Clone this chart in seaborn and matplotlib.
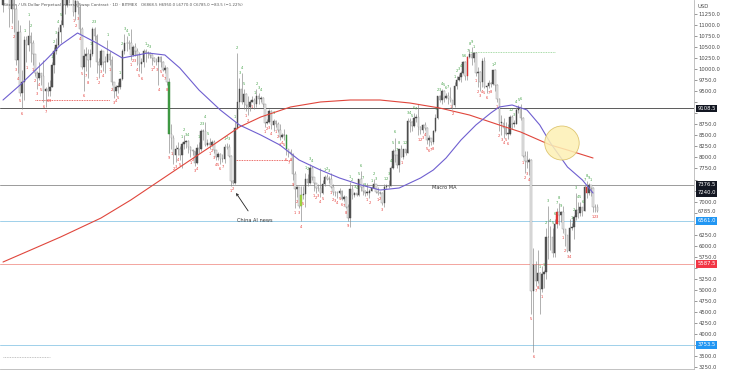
import numpy as np
import pandas as pd
import matplotlib
matplotlib.use("Agg")
import matplotlib.pyplot as plt
import seaborn as sns
from matplotlib.patches import Ellipse

# ---------------- data (daily candles, XBTUSD) ----------------
first_open = 11450.0
closes = [12300, 12560, 12100, 11350, 11800, 11350, 10200, 10850, 9450, 9700,
          10650, 10550, 10750, 10600, 10350, 9900, 9800, 9900, 9850, 9500,
          9550, 9500, 9600, 10100, 10400, 10550, 10850, 11000, 11800, 11450,
          11950, 11950, 11850, 11300, 11550, 11400, 10900, 10050, 10300, 10350,
          10200, 10350, 10900, 10750, 10150, 10100, 10400, 10150, 10150, 10350,
          10200, 9700, 9500, 9600, 9600, 9770, 10400, 10600, 10580, 10580,
          10320, 10490, 10410, 10330, 10110, 10160, 10410, 10360, 10360, 10310,
          10260, 10190, 10160, 10280, 10170, 9990, 10030, 9700, 8530, 8430,
          8060, 8200, 8200, 8050, 8300, 8340, 8380, 8230, 8160, 8150,
          7870, 8210, 8190, 8590, 8590, 8270, 8320, 8290, 8360, 8160,
          8000, 8080, 7960, 7960, 8240, 8230, 8030, 7470, 7420, 8670,
          9260, 9550, 9250, 9430, 9180, 9150, 9250, 9300, 9200, 9400,
          9320, 9340, 9200, 8780, 8810, 9040, 8730, 8820, 8760, 8630,
          8470, 8500, 8500, 8180, 8120, 8080, 7620, 7280, 7320, 6900,
          7150, 7170, 7520, 7420, 7750, 7560, 7420, 7310, 7300, 7200,
          7400, 7550, 7510, 7520, 7340, 7220, 7200, 7190, 7250, 7070,
          7110, 6880, 6620, 7290, 7150, 7190, 7140, 7510, 7320, 7250,
          7200, 7200, 7250, 7300, 7390, 7220, 7190, 7200, 6960, 7340,
          7350, 7360, 7760, 8150, 8050, 7820, 8190, 8020, 8180, 8110,
          8820, 8810, 8720, 8900, 8910, 8700, 8630, 8730, 8660, 8390,
          8430, 8340, 8600, 8900, 9380, 9300, 9510, 9350, 9390, 9340,
          9290, 9180, 9620, 9760, 9810, 9910, 10170, 9850, 10270, 10350,
          10240, 10360, 9900, 9930, 9700, 10180, 9600, 9610, 9690, 9670,
          9970, 9650, 9320, 8790, 8790, 8670, 8530, 8530, 8920, 8760,
          8760, 9070, 9150, 8900, 8040, 7930, 7900, 7940, 4970, 5560,
          5200, 5390, 5020, 5370, 5410, 6190, 6200, 6190, 5830, 6490,
          6770, 6700, 6760, 6380, 6250, 5880, 6400, 6420, 6640, 6810,
          6740, 6870, 6780, 7340, 7200, 7370, 7300, 6870, 6868.5, 6785]
highs = [12380, 12800, 13200, 12100, 11900, 11850, 11450, 11100, 11000, 9980,
         10750, 10750, 11100, 10850, 10650, 10350, 9950, 10150, 9900, 10200,
         9600, 9700, 9750, 10150, 10500, 10700, 10950, 11100, 11950, 12300,
         12100, 12050, 12000, 11950, 11600, 11550, 11450, 10950, 10450, 10500,
         10450, 10450, 10950, 10950, 10800, 10250, 10450, 10400, 10300, 10650,
         10400, 10300, 9700, 9650, 9700, 9800, 10450, 10800, 10750, 10650,
         10900, 10550, 10580, 10480, 10380, 10250, 10450, 10450, 10400, 10380,
         10350, 10280, 10250, 10300, 10300, 10180, 10100, 10050, 9800, 8750,
         8500, 8280, 8350, 8250, 8350, 8500, 8400, 8400, 8250, 8200,
         8150, 8300, 8350, 8650, 8650, 8800, 8420, 8450, 8400, 8400,
         8170, 8120, 8100, 8080, 8300, 8320, 8300, 8050, 7500, 8800,
         10370, 9800, 9900, 9550, 9450, 9400, 9300, 9400, 9350, 9550,
         9450, 9400, 9370, 9220, 8880, 9100, 9070, 8880, 8850, 8800,
         8750, 8550, 8650, 8520, 8200, 8200, 8100, 7700, 7350, 7330,
         7350, 7350, 7650, 7620, 7850, 7800, 7550, 7420, 7400, 7750,
         7500, 7600, 7620, 7580, 7650, 7400, 7250, 7250, 7300, 7270,
         7160, 7130, 6940, 7440, 7380, 7220, 7200, 7520, 7700, 7430,
         7270, 7430, 7280, 7350, 7520, 7400, 7320, 7250, 7210, 7400,
         7400, 7500, 7800, 8200, 8450, 8050, 8200, 8280, 8200, 8200,
         8900, 8890, 8820, 9000, 8980, 9200, 8720, 8750, 8800, 8680,
         8500, 8440, 8620, 8980, 9400, 9420, 9550, 9520, 9450, 9480,
         9600, 9300, 9700, 9840, 9880, 9950, 10180, 10180, 10300, 10450,
         10500, 10380, 10380, 10050, 9950, 10250, 10280, 9650, 9760, 9700,
         9980, 10000, 9660, 9350, 8950, 8900, 8800, 8750, 8950, 8950,
         8850, 9150, 9190, 9200, 8910, 8150, 8150, 7980, 7960, 5950,
         5650, 5900, 5400, 5550, 5450, 6400, 6900, 6450, 6400, 6600,
         6850, 6970, 6790, 6900, 6380, 6250, 6600, 6520, 6700, 7200,
         7000, 6980, 6880, 7380, 7460, 7420, 7380, 7320, 6950, 6950]
lows = [11300, 12100, 11600, 10950, 11050, 10850, 10100, 9900, 9400, 9100,
        9300, 10150, 10400, 10150, 10100, 9850, 9550, 9750, 9650, 9250,
        9150, 9400, 9400, 9600, 9900, 10350, 10500, 10600, 10950, 11250,
        11400, 11500, 11700, 11200, 11100, 11250, 10800, 10000, 9500, 9950,
        9800, 10050, 10300, 10650, 9900, 9800, 10050, 9950, 9900, 10150,
        10100, 9650, 9350, 9400, 9450, 9550, 9750, 10350, 10400, 10450,
        10200, 10300, 10300, 10100, 9950, 9900, 10050, 10150, 10250, 10250,
        10100, 10150, 10100, 9650, 10050, 9950, 9900, 9650, 8100, 8200,
        7850, 7900, 8050, 7950, 7750, 8200, 8220, 8100, 8000, 8050,
        7800, 7850, 8100, 8150, 8400, 8250, 8250, 8200, 8250, 8100,
        7950, 7950, 7850, 7900, 7880, 8180, 8000, 7350, 7400, 7400,
        8650, 9100, 9200, 9100, 9050, 8950, 9050, 9250, 9100, 9150,
        9200, 9250, 9150, 8700, 8750, 8780, 8650, 8600, 8700, 8580,
        8400, 8450, 8400, 8050, 8000, 8050, 7500, 6850, 7100, 6850,
        6550, 7050, 6880, 7350, 7400, 7500, 7250, 7200, 7250, 7100,
        7180, 7350, 7480, 7420, 7300, 7150, 7120, 7080, 7180, 7030,
        7020, 6850, 6570, 6430, 7050, 7100, 7120, 7130, 7250, 7160,
        7130, 7160, 7080, 7250, 7300, 7200, 7150, 7170, 6920, 6870,
        7280, 7310, 7350, 7730, 7900, 7750, 7680, 8000, 7960, 8050,
        8100, 8580, 8600, 8700, 8800, 8500, 8520, 8550, 8620, 8300,
        8250, 8280, 8300, 8570, 8880, 9250, 9200, 9250, 9320, 9200,
        9250, 9100, 9150, 9550, 9720, 9700, 9880, 9750, 9750, 10250,
        10100, 10150, 9850, 9600, 9500, 9600, 9580, 9450, 9580, 9600,
        9650, 9500, 9250, 8600, 8500, 8450, 8500, 8420, 8500, 8650,
        8680, 8750, 9000, 8850, 8000, 7650, 7750, 7600, 4450, 3600,
        5100, 5150, 4450, 4950, 5050, 5250, 5700, 5900, 5750, 5750,
        6400, 6480, 6540, 6300, 6000, 5860, 5860, 6350, 6150, 6580,
        6630, 6680, 6670, 6780, 7080, 7150, 7120, 6770, 6770, 6770]

# moving averages (day index, price)
ma50_day = [0, 8, 20, 27, 35, 44, 56, 68, 76, 83, 92, 102, 111, 121, 130, 139,
            149, 158, 168, 177, 186, 196, 202, 208, 215, 222, 229, 233, 239,
            246, 252, 257, 265, 272, 277]
ma50_val = [9300, 9640, 10200, 10545, 10817, 10590, 10251, 10364, 10319, 10025,
            9526, 9074, 8734, 8508, 8281, 7942, 7715, 7534, 7376, 7262, 7308,
            7534, 7715, 7987, 8394, 8734, 9006, 9142, 9187, 9074, 8734, 8327,
            7783, 7489, 7194]
ma200_day = [0, 13, 27, 46, 60, 74, 88, 100, 111, 121, 135, 149, 163, 177, 191,
             205, 219, 233, 243, 257, 265, 277]
ma200_val = [5632, 5904, 6198, 6628, 7036, 7489, 7942, 8327, 8689, 8915, 9142,
             9255, 9300, 9300, 9232, 9119, 8960, 8734, 8576, 8281, 8168, 7987]

# horizontal levels: price, line colour, tag colour
level_prices = [9108.5, 7376.5, 6561.0, 5587.5, 3753.5]
level_colors = ["#5a5a5a", "#9a9a9a", "#9fd0ea", "#f3a59f", "#9fd0ea"]
tag_colors = ["#131722", "#131722", "#2196f3", "#f23645", "#2196f3"]
extra_tag_price = 7240.0
last_price = 6785.0

# short dotted risk lines: start day, end day, price, colour
dot_start = [15, 109, 219, 0]
dot_end = [50, 135, 259, 22]
dot_price = [9300, 7950, 10390, 3480]
dot_color = ["#e53935", "#e53935", "#8bd08b", "#b0b0b0"]

# highlighted (TD 9) candles
hl_green = [78, 133]
hl_lime = [140]
hl_red = [218, 260, 274]

yticks = list(range(3250, 11251, 250))

# ---------------- figure ----------------
sns.set_theme(style="white")
plt.rcParams["font.family"] = ["DejaVu Sans"]
fig = plt.figure(figsize=(7.33, 3.71), dpi=100)
ax = fig.add_axes([0, 2 / 371, 694 / 733, 369 / 371])
Y_TOP, Y_BOT = 11564, 3210

c = np.array(closes, dtype=float)
h = np.array(highs, dtype=float)
l = np.array(lows, dtype=float)
o = np.concatenate([[first_open], c[:-1]])
n = len(c)
x = np.arange(n)
up = c >= o

ax.vlines(x, l, h, color="#858585", lw=0.45, zorder=2)
body_lo = np.minimum(o, c)
body_h = np.maximum(np.abs(c - o), 12)
face = np.where(up, "#555555", "#e8e8e8").astype(object)
edge = np.where(up, "#444444", "#919191").astype(object)
for idx in hl_green:
    face[idx] = "#43a047"; edge[idx] = "#2e7d32"
for idx in hl_lime:
    face[idx] = "#a5d63f"; edge[idx] = "#7cb342"
for idx in hl_red:
    face[idx] = "#e53935"; edge[idx] = "#c62828"
ax.bar(x, body_h, bottom=body_lo, width=0.72, color=list(face),
       edgecolor=list(edge), linewidth=0.3, zorder=3)

# TD sequential counts (derived from closes)
buy = sell = 0
for i in range(n):
    if i >= 4 and c[i] < c[i - 4]:
        buy = buy + 1 if buy < 9 else 1
        sell = 0
    elif i >= 4 and c[i] > c[i - 4]:
        sell = sell + 1 if sell < 9 else 1
        buy = 0
    else:
        buy = sell = 0
    if buy and l[i] - 250 > Y_BOT:
        ax.text(i, l[i] - 70, str(buy), color="#e53935", fontsize=2.6,
                ha="center", va="top", zorder=4)
    if sell and h[i] + 250 < Y_TOP:
        ax.text(i, h[i] + 70, str(sell), color="#43a047", fontsize=2.6,
                ha="center", va="bottom", zorder=4)

# moving averages
sns.lineplot(x=ma200_day, y=ma200_val, ax=ax, color="#e0463c", lw=0.8, zorder=5)
sns.lineplot(x=ma50_day, y=ma50_val, ax=ax, color="#6f5fd0", lw=0.8, zorder=5)

# horizontal levels
for p, lc in zip(level_prices, level_colors):
    ax.axhline(p, color=lc, lw=0.7, zorder=1)
for s, e, p, col in zip(dot_start, dot_end, dot_price, dot_color):
    ax.hlines(p, s, e, colors=col, lw=0.6, linestyles=(0, (1, 1)), zorder=1)

# highlight circle
ax.add_patch(Ellipse((262.4, 8326), 16.2, 770, facecolor="#fdf0b4", alpha=0.85,
                     edgecolor="#d9bd5e", lw=0.6, zorder=6))

# annotations
ax.text(207, 7330, "Macro MA", fontsize=3.6, color="#333333", ha="center",
        va="center", zorder=7)
ax.annotate("China AI news", xy=(109.4, 7195), xytext=(118, 6580),
            fontsize=3.6, color="#333333", ha="center", va="center",
            arrowprops=dict(arrowstyle="->", color="#222222", lw=0.6,
                            shrinkA=3, shrinkB=0), zorder=7)

# axes styling
ax.set_xlim(-1.41, 324.4)
ax.set_ylim(Y_BOT, Y_TOP)
ax.set_xticks([])
ax.yaxis.tick_right()
tag_all = level_prices + [extra_tag_price, last_price]
ax.set_yticks(yticks)
ax.set_yticklabels(["" if min(abs(v - t) for t in tag_all) < 150 else f"{v:.1f}"
                    for v in yticks])
ax.tick_params(axis="y", labelsize=3.8, colors="#4a4a4a", length=2, width=0.4,
               pad=1.5, right=True)
for side in ["top", "left"]:
    ax.spines[side].set_visible(False)
for side in ["right", "bottom"]:
    ax.spines[side].set_color("#b8b8b8")
    ax.spines[side].set_linewidth(0.6)
ax.set_xlabel("")
ax.set_ylabel("")

# price tags on the axis
ytr = ax.get_yaxis_transform()
for p, fc in zip(level_prices, tag_colors):
    ax.text(1.005, p, f"{p:.1f}", transform=ytr, fontsize=3.8,
            color="white", va="center", ha="left", clip_on=False, zorder=10,
            bbox=dict(boxstyle="square,pad=0.25", fc=fc, ec="none"))
ax.text(1.005, extra_tag_price - 40, f"{extra_tag_price:.1f}", transform=ytr,
        fontsize=3.8, color="white", va="center", ha="left", clip_on=False,
        zorder=10, bbox=dict(boxstyle="square,pad=0.25", fc="#131722", ec="none"))
ax.text(1.005, last_price, f"{last_price:.1f}", transform=ytr, fontsize=3.8,
        color="#4a4a4a", va="center", ha="left", clip_on=False, zorder=10)
fig.text(697 / 733, 1 - 6 / 371, "USD", fontsize=3.8, color="#4a4a4a", va="center")

# header
fig.text(3 / 733, 1 - 5 / 371,
         "Bitcoin / US Dollar Perpetual Inverse Swap Contract · 1D · BITMEX",
         fontsize=3.0, color="#555555", va="center")
fig.text(141 / 733, 1 - 5 / 371,
         "O6868.5 H6950.0 L6770.0 C6785.0 −83.5 (−1.22%)",
         fontsize=2.8, color="#555555", va="center")

fig.savefig("out.png", dpi=100)
